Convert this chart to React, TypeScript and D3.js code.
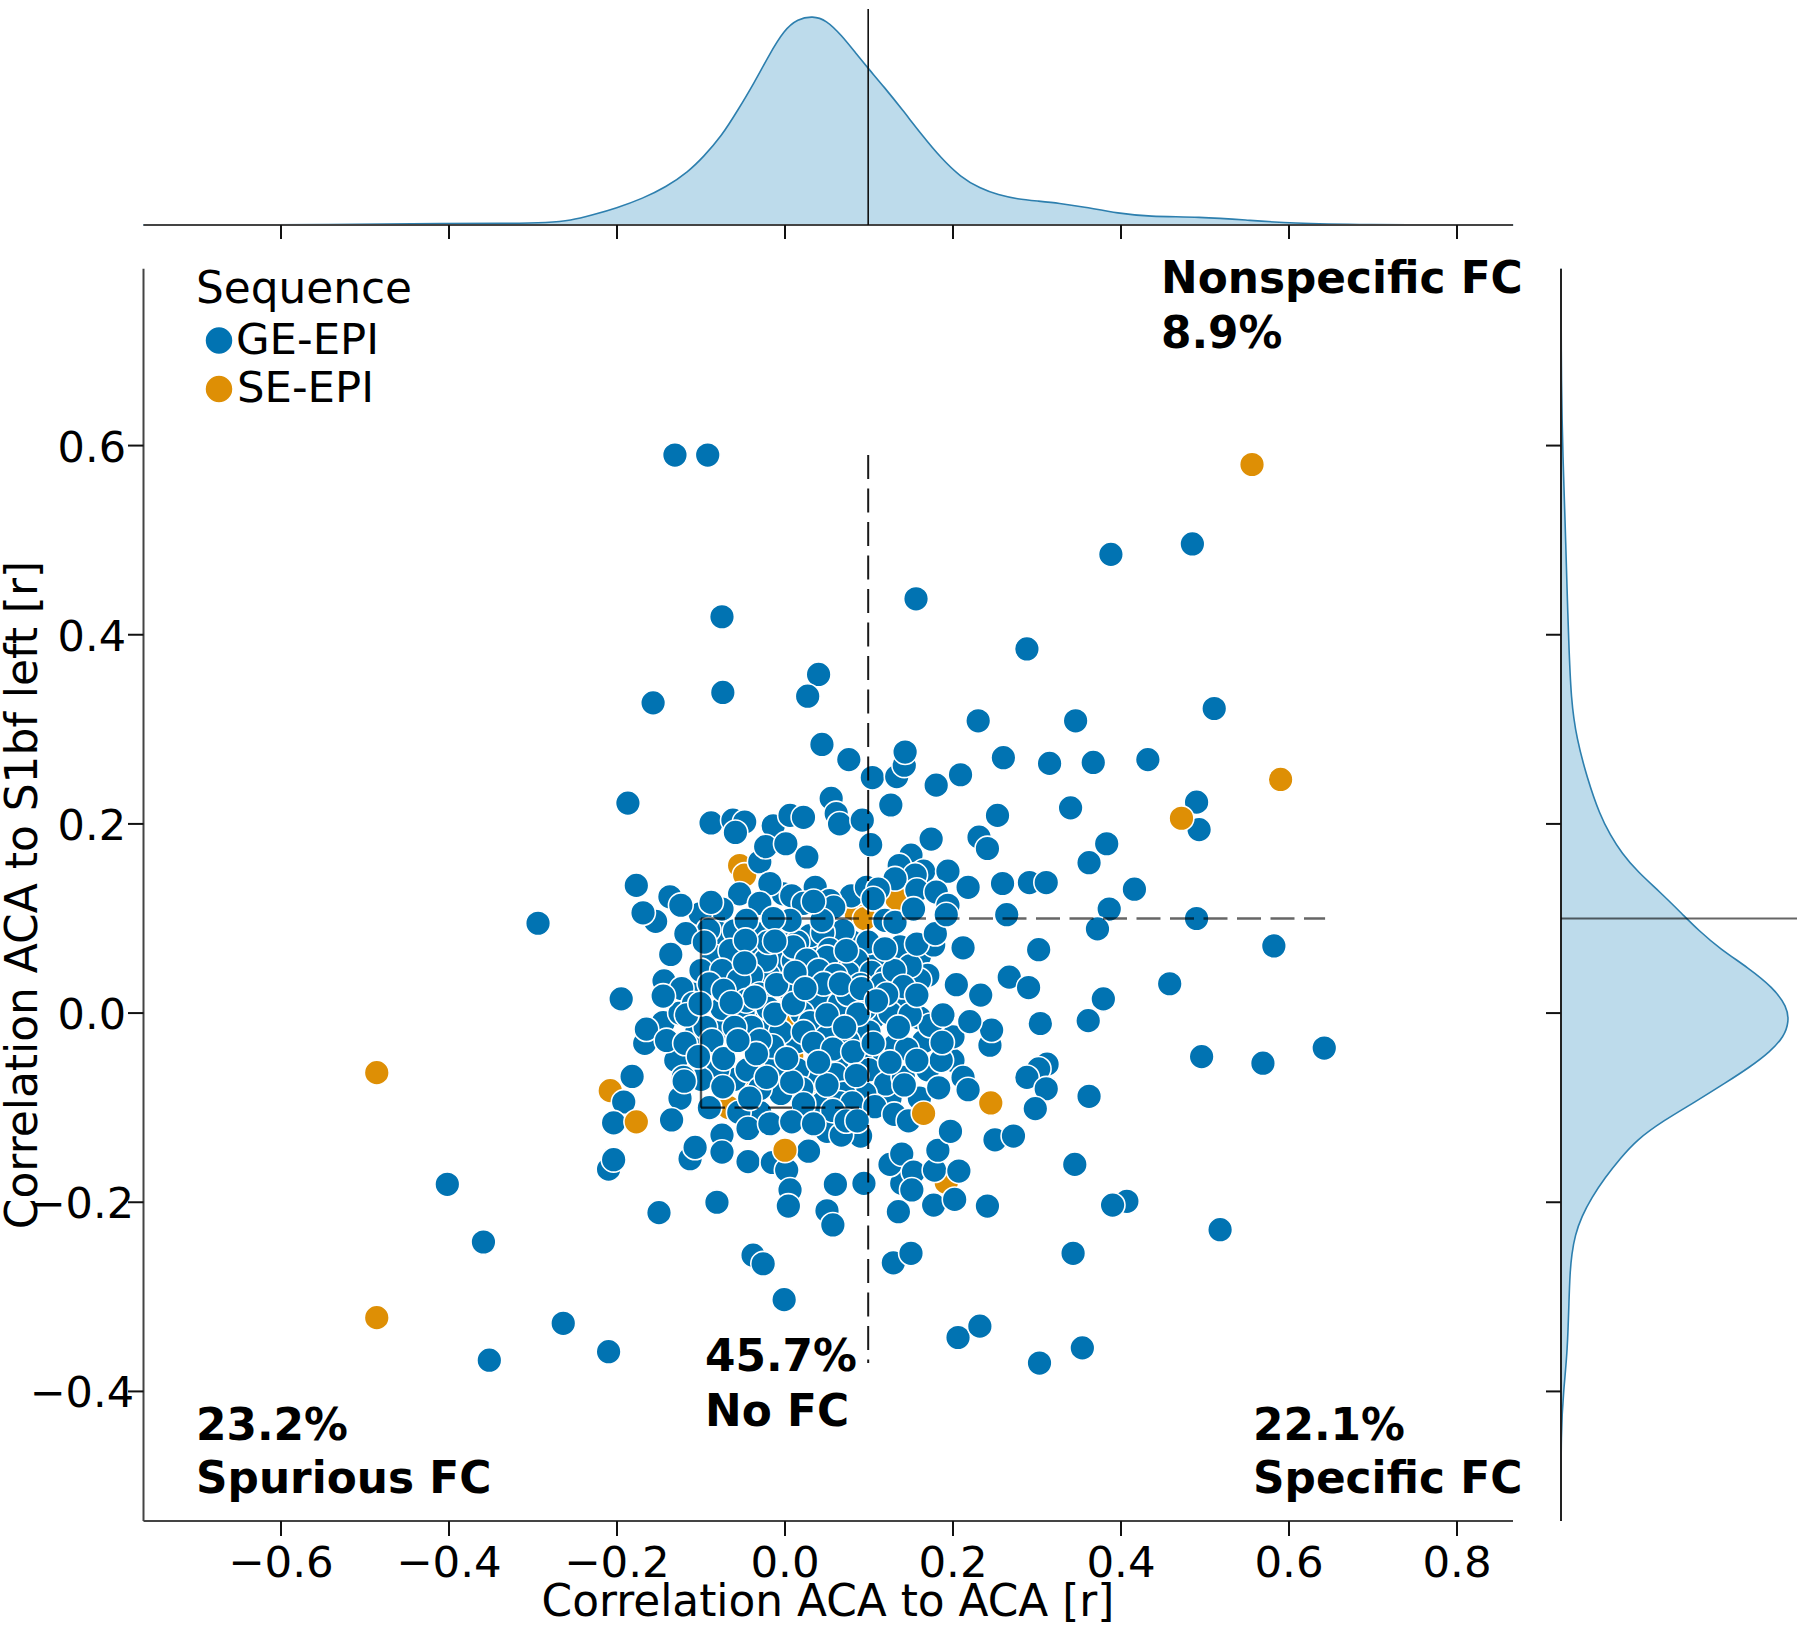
import React from "react";
import * as d3 from "d3";

const xTicks = [-0.6, -0.4, -0.2, 0, 0.2, 0.4, 0.6, 0.8];
const yTicks = [-0.4, -0.2, 0, 0.2, 0.4, 0.6];

const outerPoints: [number, number][] = [
  [-.131,.590],[-.092,.590],[.388,.485],[.485,.496],[.156,.438],[-.075,.419],[.288,.385],[.040,.358],[-.074,.339],[-.157,.328],[.027,.335],[.511,.322],[.230,.309],[.346,.309],[.044,.284],[.076,.268],[.104,.249],[.133,.250],[.142,.262],[.143,.276],[.180,.241],[.209,.252],[.260,.270],[.315,.264],[.367,.265],[.432,.268],[-.187,.222],[.126,.220],[.055,.227],[.061,.211],[.065,.200],[.092,.204],[.253,.209],[.340,.217],[.490,.223],[.493,.194],
  [-.088,.201],[-.062,.204],[-.048,.202],[-.059,.191],[-.014,.198],[.006,.209],[.022,.207],[-.030,.160],[-.023,.176],[.001,.179],[.026,.165],[.102,.178],[.174,.184],[.231,.186],[.241,.174],[.383,.179],[.362,.159],[.150,.167],[.136,.156],[.165,.150],[.194,.150],[.155,.146],[.131,.142],[.218,.133],[.259,.137],[.291,.138],[.311,.138],[.416,.131],[-.177,.135],
  [-.294,.095],[.386,.110],[.372,.089],[.490,.100],[.582,.071],[.458,.031],[.302,.067],[.267,.038],[.290,.027],[.379,.015],[.304,-.011],[.361,-.008],[.496,-.046],[.569,-.053],[.642,-.037],
  [.312,-.054],[.302,-.059],[.288,-.068],[.311,-.080],[.362,-.088],[.298,-.101],[.271,-.130],[.252,-.134],[.345,-.160],[.407,-.199],[.390,-.203],[.518,-.229],[.343,-.254],
  [-.402,-.181],[-.359,-.242],[-.150,-.211],[-.081,-.200],[-.038,-.256],[-.026,-.265],[-.001,-.303],[.129,-.264],[.150,-.254],[-.264,-.328],[-.352,-.367],[-.210,-.358],[.206,-.343],[.232,-.331],[.303,-.370],[.354,-.354],
];

const centerHiddenPoints: [number, number][] = [
  [-.08,.085],[-.05,.075],[-.035,.06],[-.01,.055],[.01,.055],[.03,.07],[.06,.055],[.08,.075],[.095,.06],[.11,.055],[.14,.055],[.16,.06],[.17,.04],[.16,.035],[-.085,.06],[-.10,.045],[-.06,.05],[-.02,.04],[.005,.025],[.025,.04],[.055,.02],[.08,.005],[.105,-.005],[.14,.005],[.16,-.005],[.165,-.03],[.13,-.035],[.11,-.05],[.09,-.02],[.06,-.01],[.04,-.04],[.015,-.03],[-.01,-.055],[-.025,-.01],[-.05,.0],[-.07,-.015],[-.085,-.04],[-.06,-.07],[-.08,-.06],[-.10,-.07],[-.13,-.05],[-.145,-.01],[-.125,.0],[-.105,-.02],[.035,-.07],[.07,-.05],[.09,-.05],[.125,-.09],[.16,-.09],[.17,-.06],[.20,-.05],[.20,-.025],[.025,-.11],[.05,-.125],[.09,-.13],[-.03,-.105],[-.055,-.105],[-.09,-.10],[-.125,-.09],
];

const centerLowerPoints: [number, number][] = [
  [-.054,.126],[-.002,.126],[.008,.124],[.036,.133],[.079,.124],[.097,.133],[.111,.131],[.157,.130],[.180,.128],[.194,.114],[.264,.104],[-.018,.137],
  [-.030,.116],[.022,.116],[.053,.119],[-.075,.110],[-.101,.105],[-.088,.117],[-.137,.123],[-.154,.097],[-.169,.106],[.105,.121],[.058,.112],
  [-.060,.087],[-.032,.084],[.030,.082],[.000,.090],[.015,.075],[.069,.087],[.045,.085],[-.091,.088],[-.118,.084],
  [.099,.075],[.119,.098],[.177,.072],[.137,.070],[.212,.069],[.006,.098],[.044,.098],
  [-.023,.056],[-.040,.040],[-.065,.066],[.010,.070],[.053,.067],[.050,.059],[.026,.056],[.085,.056],[.075,.042],[.103,.043],[.121,.038],[.149,.050],[.090,.030],
  [-.020,.075],[-.075,.045],[-.055,.035],[-.030,.020],[-.010,.030],[.040,.045],[.060,.040],[.040,.015],[.065,.010],[.095,.005],[.125,.000],[.115,.030],[.130,.045],[.020,.000],[-.020,.005],[.030,-.010],[.075,.020],[.100,-.020],[-.005,-.020],[.050,-.025],[.075,-.030],[-.075,.005],[-.095,-.015],[-.110,.020],[-.040,-.015],[-.015,-.035],[-.045,-.060],[.015,-.060],[.060,-.065],[.100,-.060],[.120,-.075],[.095,-.085],[.070,-.085],[.020,-.080],[-.005,-.085],[-.030,-.080],[.045,-.095],[.065,-.095],[.080,-.095],
  [-.195,.015],[-.144,.034],[-.123,.026],[-.090,.031],[-.073,.024],[-.109,.010],[-.046,.013],[-.036,.017],[-.012,-.001],[.010,.010],[.046,.031],[.066,.031],[.091,.026],[.141,.028],[.121,.020],[.087,-.001],[.173,-.013],[.149,-.002],[.188,-.002],
  [.204,.030],[.233,.019],[.244,-.034],[.246,-.018],[.220,-.009],
  [-.167,-.032],[-.165,-.017],[-.141,-.029],[-.119,-.032],[-.087,-.029],[-.060,-.015],[-.030,-.029],[-.073,-.048],[-.034,-.043],[.022,-.020],[.034,-.032],[.057,-.038],[.081,-.041],[.105,-.032],[.145,-.038],[.186,-.050],
  [-.121,-.068],[.085,-.066],[.141,-.068],[.142,-.076],[.183,-.079],[.212,-.068],[.218,-.081],[.050,-.076],[.008,-.073],[-.022,-.068],[.022,-.096],[.107,-.099],[.130,-.107],[.147,-.114],[.057,-.103],
  [-.074,-.078],[-.042,-.090],[-.120,-.072],[-.182,-.067],[-.192,-.094],[-.204,-.116],[-.135,-.113],[-.113,-.154],[-.107,-.142],[-.075,-.129],[-.075,-.147],[-.044,-.122],[-.018,-.117],[-.044,-.157],[-.015,-.158],[.002,-.166],[.008,-.115],[.034,-.117],[.067,-.129],[.073,-.114],[.086,-.114],[.028,-.146],
  [.006,-.187],[.004,-.204],[-.210,-.165],[-.204,-.155],[-.150,-.211],[.050,-.209],[.057,-.224],[.060,-.181],[.094,-.180],[.135,-.210],[.177,-.203],[.202,-.197],[.241,-.204],[.139,-.180],[.125,-.160],[.139,-.149],[.153,-.168],[.151,-.187],[.178,-.166],[.207,-.167],[.182,-.145],[.197,-.125],[.250,-.134],[.272,-.130],
];

const centerUpperPoints: [number, number][] = [
  [-.124,.114],[-.046,.098],[-.014,.100],[.034,.118],[.131,.096],[-.096,.075],[-.012,.076],[-.047,.077],[-.048,.053],[.012,.043],[.024,.026],[-.064,.011],[.073,.066],[.119,.068],[.157,.073],[.179,.084],[.153,.110],[.192,.104],[.050,-.002],[.071,-.015],[.135,-.015],[.187,-.031],[.157,-.050],[.125,-.052],[.040,-.052],[.002,-.048],[-.056,-.029],[-.103,-.046],[-.117,-.002],[-.145,.018],[-.136,.062],[.109,.013],[.157,.019],[-.101,.010],
];

const orangeUnderPoints: [number, number][] = [
  [-.208,-.082],[-.054,-.066],[.029,-.076],[-.067,-.100],[-.054,.156],[-.048,.146],[.085,.103],[.133,.121],[.004,-.010],[.192,-.179],[.095,.100],[.008,-.045],[-.015,-.060],
];

const orangeOverPoints: [number, number][] = [
  [-.177,-.115],[.000,-.145],[.165,-.106],[.245,-.095],[-.486,-.063],[-.486,-.322],[.556,.580],[.590,.247],[.472,.206],
];

const topKdeX = [-.764,-.525,-.40,-.338,-.279,-.256,-.229,-.201,-.169,-.142,-.115,-.097,-.076,-.056,-.037,-.019,-.001,.015,.033,.049,.067,.086,.100,.118,.140,.163,.186,.209,.232,.254,.277,.300,.327,.354,.398,.432,.494,.549,.600,.700,.787,.867];
const topKdeD = [0,.4,1.8,1.5,2.3,4.3,10,16.7,26.7,37.7,53.3,68.3,88.3,115,141.7,170,195,206,209,205,190,170,155.7,138,115,90,66.7,48,36.7,30,26,24,21.7,18.3,11.5,8.5,8,5,1.7,.3,0,0];

const rightKdeY = [.787,.66,.585,.524,.45,.40,.330,.290,.249,.209,.189,.169,.149,.128,.104,.088,.068,.048,.027,.007,-.009,-.025,-.041,-.057,-.073,-.094,-.114,-.134,-.154,-.174,-.195,-.215,-.235,-.255,-.275,-.303,-.357,-.40,-.44,-.537];
const rightKdeD = [0,.3,2,4,6,7.5,10,15.7,26,39,49,60.7,77,99,122,137,159,187,212,226,228,223,209,189,165.7,134,102,75.7,59,44,30.7,20.7,14,10.7,9,8,6.5,2.5,0,0];

const blue = "#0173B2";
const orange = "#DE8F05";
const font = "'DejaVu Sans', sans-serif";
const thresholds = { nofc: 0.1, vTop: 0.59, vBottom: -0.37, hRight: 0.643 };

export default function App() {
  const x = d3.scaleLinear().domain([-0.7637, 0.8667]).range([143.5, 1513]);
  const y = d3.scaleLinear().domain([-0.537, 0.787]).range([1521, 268.7]);
  const dTop = d3.scaleLinear().domain([0, 206.7]).range([225, 18.3]);
  const dRight = d3.scaleLinear().domain([0, 225]).range([1561, 1786]);
  const topData = topKdeX.map((v, i) => [v, topKdeD[i]] as [number, number]);
  const rightData = rightKdeY.map((v, i) => [v, rightKdeD[i]] as [number, number]);
  const topArea = d3.area<[number, number]>().x((d) => x(d[0])).y0(225).y1((d) => dTop(d[1])).curve(d3.curveBasis)(topData)!;
  const topLine = d3.line<[number, number]>().x((d) => x(d[0])).y((d) => dTop(d[1])).curve(d3.curveBasis)(topData)!;
  const rightArea = d3.area<[number, number]>().y((d) => y(d[0])).x0(1561).x1((d) => dRight(d[1])).curve(d3.curveBasis)(rightData)!;
  const rightLine = d3.line<[number, number]>().y((d) => y(d[0])).x((d) => dRight(d[1])).curve(d3.curveBasis)(rightData)!;
  const dot = (pts: [number, number][], fill: string, key: string) =>
    pts.map((p, i) => <circle key={key + i} cx={x(p[0])} cy={y(p[1])} r={12.4} fill={fill} stroke="#fff" strokeWidth={1.6} />);
  const spine = "#444";
  const fmt = (t: number) => d3.format(".1f")(t).replace("-", "\u2212");
  return (
    <svg width={1800} height={1626} viewBox="0 0 1800 1626" style={{ position: "absolute", left: 0, top: 0, background: "#fff" }} fontFamily={font} fill="#000">
      {/* top marginal */}
      <path d={topArea} fill={blue} fillOpacity={0.26} />
      <path d={topLine} fill="none" stroke="#2d7fae" strokeWidth={1.6} />
      <line x1={143.5} x2={1513} y1={225} y2={225} stroke={spine} strokeWidth={2} />
      {xTicks.map((t) => <line key={"tt" + t} x1={x(t)} x2={x(t)} y1={225} y2={239} stroke="#111" strokeWidth={2} />)}
      <line x1={x(thresholds.nofc) - 0.8} x2={x(thresholds.nofc) - 0.8} y1={9} y2={225} stroke="#111" strokeWidth={1.6} />

      {/* right marginal */}
      <path d={rightArea} fill={blue} fillOpacity={0.26} />
      <path d={rightLine} fill="none" stroke="#2d7fae" strokeWidth={1.6} />
      <line x1={1561} x2={1561} y1={268.7} y2={1521} stroke="#222" strokeWidth={2} />
      {yTicks.map((t) => <line key={"rt" + t} x1={1546} x2={1561} y1={y(t)} y2={y(t)} stroke="#111" strokeWidth={2} />)}
      <line x1={1561} x2={1797} y1={y(thresholds.nofc)} y2={y(thresholds.nofc)} stroke="#000" strokeOpacity={0.6} strokeWidth={2.2} />

      {/* joint axes */}
      <line x1={143.5} x2={143.5} y1={268.7} y2={1521} stroke={spine} strokeWidth={2} />
      <line x1={143.5} x2={1513} y1={1521} y2={1521} stroke={spine} strokeWidth={2} />
      {xTicks.map((t) => <line key={"xt" + t} x1={x(t)} x2={x(t)} y1={1521} y2={1536} stroke="#111" strokeWidth={2} />)}
      {yTicks.map((t) => <line key={"yt" + t} x1={128} x2={143.5} y1={y(t)} y2={y(t)} stroke="#111" strokeWidth={2} />)}

      {xTicks.map((t) => (
        <text key={"xl" + t} x={x(t)} y={1577} textAnchor="middle" fontSize={43.5}>{fmt(t)}</text>
      ))}
      {yTicks.map((t) => (
        <text key={"yl" + t} x={t < 0 ? 134 : 126} y={y(t) + 16} textAnchor="end" fontSize={43}>{fmt(t)}</text>
      ))}
      <text x={828} y={1616} textAnchor="middle" fontSize={43.8}>Correlation ACA to ACA [r]</text>
      <text transform={`translate(37,895) rotate(-90)`} textAnchor="middle" fontSize={43.9}>Correlation ACA to S1bf left [r]</text>

      {/* points */}
      {dot(orangeUnderPoints, orange, "ou")}
      {dot(outerPoints, blue, "o")}
      {dot(centerHiddenPoints, blue, "h")}
      {dot(centerLowerPoints, blue, "l")}
      {dot(centerUpperPoints, blue, "u")}
      {dot(orangeOverPoints, orange, "ov")}

      {/* reference lines */}
      <line x1={x(thresholds.nofc) - 0.8} x2={x(thresholds.nofc) - 0.8} y1={y(thresholds.vTop)} y2={y(thresholds.vBottom)} stroke="#000" strokeOpacity={0.9} strokeWidth={2} strokeDasharray="24 9.5" />
      <line x1={x(-0.1)} x2={x(thresholds.hRight)} y1={y(0.1)} y2={y(0.1)} stroke="#000" strokeOpacity={0.6} strokeWidth={2.6} strokeDasharray="24 9.5" />
      <line x1={x(-0.1)} x2={x(-0.1)} y1={y(0.1)} y2={y(-0.1)} stroke="#000" strokeOpacity={0.65} strokeWidth={2.4} />
      <line x1={x(-0.1)} x2={x(0.1)} y1={y(-0.1)} y2={y(-0.1)} stroke="#000" strokeOpacity={0.75} strokeWidth={2.4} strokeDasharray="24 9.5" />

      {/* legend */}
      <text x={196} y={303} fontSize={43.8}>Sequence</text>
      <circle cx={219} cy={340.5} r={14} fill={blue} stroke="#fff" strokeWidth={1.5} />
      <text x={236} y={354} fontSize={43.4}>GE-EPI</text>
      <circle cx={219} cy={389} r={14} fill={orange} stroke="#fff" strokeWidth={1.5} />
      <text x={237} y={402} fontSize={43.4}>SE-EPI</text>

      {/* annotations */}
      <g fontWeight="bold" fontSize={43.8}>
        <text x={1161} y={293}>Nonspecific FC</text>
        <text x={1161} y={348}>8.9%</text>
        <text x={196} y={1440}>23.2%</text>
        <text x={196} y={1493}>Spurious FC</text>
        <text x={705} y={1371}>45.7%</text>
        <text x={705} y={1426}>No FC</text>
        <text x={1253} y={1440}>22.1%</text>
        <text x={1253} y={1493}>Specific FC</text>
      </g>
    </svg>
  );
}
